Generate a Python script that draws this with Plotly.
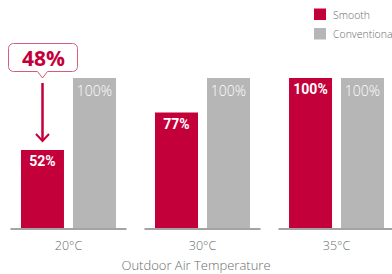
import plotly.graph_objects as go
import math

categories = ["20°C", "30°C", "35°C"]
smooth_vals = [52, 77, 100]
conv_vals = [100, 100, 100]
series_names = ["Smooth", "Conventional"]
axis_title = "Outdoor Air Temperature"

RED = "#c4003b"
GRAY = "#b5b6b5"
TXT = "#6b6b6b"
FONT = "Open Sans"

W, H = 392, 274
PH = 228  # plot area height in px (top margin 0)


def px(x):
    return x / W


def py(y):
    return 1 - y / PH


fig = go.Figure()
fig.add_bar(
    x=categories, y=smooth_vals, name=series_names[0], marker_color=RED,
    marker_line_width=0,
    text=[f"{v}%" for v in smooth_vals], textposition="inside",
    insidetextanchor="end", textangle=0,
    textfont=dict(family="Roboto", size=14, color="white", weight=700),
)
fig.add_bar(
    x=categories, y=conv_vals, name=series_names[1], marker_color=GRAY,
    marker_line_width=0,
    text=[f"{v}%" for v in conv_vals], textposition="inside",
    insidetextanchor="end", textangle=0,
    textfont=dict(family=FONT, size=14, color="white", weight=300),
)

shapes = []
# baseline segments under each group
for i in range(len(categories)):
    shapes.append(dict(type="line", xref="x", yref="paper",
                       x0=i - 0.433, x1=i + 0.433, y0=py(229), y1=py(229),
                       line=dict(color="#a4a4a4", width=2)))


def path(points):
    return "M" + " L".join(f"{px(a):.5f},{py(b):.5f}" for a, b in points) + " Z"


# callout box with pointer
x0, x1, y0, y1, r = 8.5, 77.5, 43.5, 71.5, 5


def arc(cx, cy, a0, a1):
    out = []
    for k in range(7):
        t = math.radians(a0 + (a1 - a0) * k / 6)
        out.append((cx + r * math.cos(t), cy + r * math.sin(t)))
    return out


pts = []
pts += arc(x0 + r, y0 + r, 180, 270)
pts += arc(x1 - r, y0 + r, 270, 360)
pts += arc(x1 - r, y1 - r, 0, 90)
pts += [(47.5, y1), (42.5, 78), (37.5, y1)]
pts += arc(x0 + r, y1 - r, 90, 180)
shapes.append(dict(type="path", xref="paper", yref="paper", path=path(pts),
                   fillcolor="white", line=dict(color="#d65c7c", width=1)))

# arrow
shapes.append(dict(type="line", xref="paper", yref="paper",
                   x0=px(42.5), x1=px(42.5), y0=py(83), y1=py(140),
                   line=dict(color=RED, width=2.5)))
shapes.append(dict(type="path", xref="paper", yref="paper",
                   path=f"M{px(36)},{py(134)} L{px(42.5)},{py(141)} L{px(49)},{py(134)}",
                   line=dict(color=RED, width=2)))

# legend squares
colors = [RED, GRAY]
for k, c in enumerate(colors):
    top = 8.5 + k * 19.5
    shapes.append(dict(type="rect", xref="paper", yref="paper",
                       x0=px(314), x1=px(326), y0=py(top), y1=py(top + 11.5),
                       fillcolor=c, line=dict(width=0)))

annotations = []
for k, n in enumerate(series_names):
    annotations.append(dict(xref="paper", yref="paper", x=px(331), y=py(14.5 + k * 19.5),
                            xanchor="left", yanchor="middle", showarrow=False, text=n,
                            font=dict(family=FONT, size=10.5, color=TXT, weight=300)))

annotations.append(dict(xref="paper", yref="paper", x=px(43.5), y=py(58),
                        xanchor="center", yanchor="middle", showarrow=False,
                        text=f"{conv_vals[0] - smooth_vals[0]}%",
                        font=dict(family=FONT, size=21, color=RED, weight=700)))

fig.update_layout(
    width=W, height=H,
    margin=dict(l=0, r=0, t=0, b=H - PH),
    paper_bgcolor="white", plot_bgcolor="white",
    barmode="group", bargap=0.224, bargroupgap=0.173,
    showlegend=False,
    shapes=shapes, annotations=annotations,
    uniformtext=dict(minsize=8, mode="show"),
    xaxis=dict(range=[-0.511, 2.414], showgrid=False, zeroline=False, showline=False,
               ticks="", ticklabelstandoff=8,
               tickfont=dict(family=FONT, size=12.5, color=TXT, weight=300),
               title=dict(text=axis_title, standoff=8,
                          font=dict(family=FONT, size=13, color=TXT, weight=300))),
    yaxis=dict(range=[0, 152], visible=False),
    font=dict(family=FONT),
)

fig.write_html("out.html", config={"displayModeBar": False},
               post_script="document.body.style.margin='0';document.body.style.overflow='hidden';")
